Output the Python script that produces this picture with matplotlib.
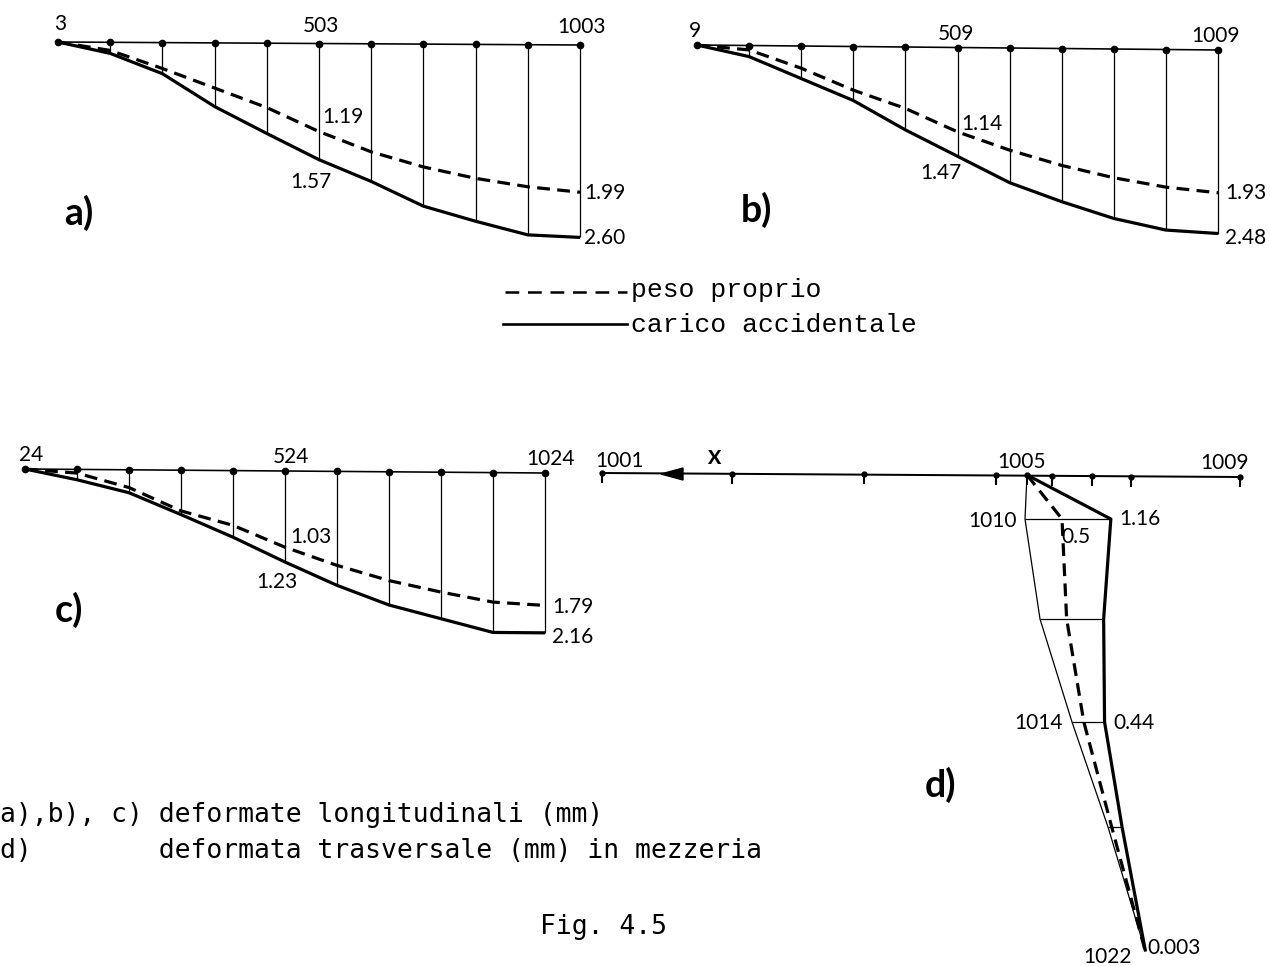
import numpy as np
import matplotlib.pyplot as plt

# deformate longitudinali (mm), nodi da sinistra a destra
a_peso = [0, 0.11, 0.35, 0.61, 0.87, 1.19, 1.46, 1.66, 1.81, 1.92, 1.99]
a_carico = [0, 0.15, 0.42, 0.86, 1.22, 1.57, 1.86, 2.19, 2.39, 2.57, 2.60]
b_peso = [0, 0.06, 0.30, 0.59, 0.83, 1.14, 1.38, 1.58, 1.74, 1.86, 1.93]
b_carico = [0, 0.15, 0.44, 0.73, 1.12, 1.47, 1.82, 2.07, 2.29, 2.44, 2.48]
c_peso = [0, 0.05, 0.24, 0.55, 0.74, 1.03, 1.27, 1.47, 1.62, 1.75, 1.79]
c_carico = [0, 0.14, 0.31, 0.60, 0.90, 1.23, 1.54, 1.80, 1.98, 2.16, 2.16]
a_nodi = ["3", "503", "1003"]
b_nodi = ["9", "509", "1009"]
c_nodi = ["24", "524", "1024"]

# deformata trasversale (mm) in mezzeria
d_livelli = ["1005", "1010", "", "1014", "", "1022"]
d_carico = [0, 1.16, 0.86, 0.44, 0.19, 0.003]
d_peso = [0, 0.5, 0.36, 0.16, 0.05, 0.0]
# geometria sezione (px): profondita' e ascissa dell'anima
d_prof = [0, 44, 144, 247, 352, 475]
d_anima = [0, -2, 13, 45, 81, 118]
# nodi dell'impalcato rispetto a 1005
d_impalcato = [-425, -295, -163, -31, 0, 25, 65, 104, 213]

MM = 74.0  # px per mm
THIN = 0.9
THICK = 2.3
NUMF = "Lato"
MONO = "DejaVu Sans Mono"

fig = plt.figure(figsize=(12.7, 9.66), dpi=100)
ax = fig.add_axes([0, 0, 1, 1])
ax.set_xlim(0, 1270)
ax.set_ylim(966, 0)
ax.axis("off")


def pannello(x0, y0, x1, y1, peso, carico):
    n = len(peso)
    xs = np.linspace(x0, x1, n)
    top = np.linspace(y0, y1, n)
    yp = top + np.array(peso) * MM
    yc = top + np.array(carico) * MM
    ax.plot(xs, top, color="k", lw=THIN * 1.3)
    ax.vlines(xs[1:], top[1:], yc[1:], color="k", lw=THIN)
    ax.plot(xs, yc, color="k", lw=THICK, solid_capstyle="butt")
    ax.plot(xs, yp, color="k", lw=THICK, dashes=(4, 2.3))
    ax.plot(xs, top, "o", color="k", ms=4.5)
    return xs, top, yp, yc


def testo(x, y, s, **kw):
    kw.setdefault("fontsize", 15)
    kw.setdefault("family", NUMF)
    kw.setdefault("va", "center")
    kw.setdefault("ha", "center")
    ax.text(x, y, s, **kw)


# a)
xs, top, yp, yc = pannello(58, 42, 580, 45, a_peso, a_carico)
for i, nome in zip([0, 5, 10], a_nodi):
    testo(xs[i] + 2, top[i] - 18, nome)
testo(xs[5] + 3, yp[5] - 15, f"{a_peso[5]:.2f}", ha="left")
testo(xs[5] - 8, yc[5] + 22, f"{a_carico[5]:.2f}")
testo(xs[-1] + 4, yp[-1] + 1, f"{a_peso[-1]:.2f}", ha="left")
testo(xs[-1] + 4, yc[-1] + 1, f"{a_carico[-1]:.2f}", ha="left")
testo(79, 213, "a)", fontsize=27, fontweight="bold")

# b)
xs, top, yp, yc = pannello(697, 45, 1218, 50, b_peso, b_carico)
for i, nome in zip([0, 5, 10], b_nodi):
    testo(xs[i] - 2, top[i] - 14, nome)
testo(xs[5] + 4, yp[5] - 8, f"{b_peso[5]:.2f}", ha="left")
testo(xs[5] - 17, yc[5] + 17, f"{b_carico[5]:.2f}")
testo(xs[-1] + 7, yp[-1] + 0, f"{b_peso[-1]:.2f}", ha="left")
testo(xs[-1] + 7, yc[-1] + 4, f"{b_carico[-1]:.2f}", ha="left")
testo(756, 210, "b)", fontsize=27, fontweight="bold")

# c)
xs, top, yp, yc = pannello(25, 469, 545, 473, c_peso, c_carico)
for i, nome in zip([0, 5, 10], c_nodi):
    testo(xs[i] + 6, top[i] - 14, nome)
testo(xs[5] + 5, yp[5] - 10, f"{c_peso[5]:.2f}", ha="left")
testo(xs[5] - 8, yc[5] + 20, f"{c_carico[5]:.2f}")
testo(xs[-1] + 7, yp[-1] + 2, f"{c_peso[-1]:.2f}", ha="left")
testo(xs[-1] + 7, yc[-1] + 4, f"{c_carico[-1]:.2f}", ha="left")
testo(69, 610, "c)", fontsize=27, fontweight="bold")

# legenda
ax.plot([505, 627], [292, 292], color="k", lw=1.8, dashes=(5.5, 3.5))
ax.plot([503, 627], [324, 324], color="k", lw=1.9)
ax.text(631, 290, "peso proprio", family="Liberation Mono", fontsize=19, va="center")
ax.text(631, 325, "carico accidentale", family="Liberation Mono", fontsize=19, va="center")

# d)
ox, oy = 1027, 475
dx = ox + np.array(d_impalcato)
dy = np.linspace(oy - 2, oy + 2, len(dx))
ax.plot([dx[0], dx[-1]], [dy[0], dy[-1]], color="k", lw=THIN * 1.6)
ax.vlines(dx, dy, dy + 10, color="k", lw=1.5)
ax.plot(dx, dy, "o", color="k", ms=3.5)
ax.fill([dx[0] + 59, dx[0] + 81, dx[0] + 81], [dy[0] + 1, dy[0] - 5, dy[0] + 7], color="k")
testo(dx[0] + 112, dy[0] - 15, "X", fontweight="black", fontsize=14)
testo(dx[0] + 18, dy[0] - 12, "1001")
testo(ox - 5, oy - 13, "1005")
testo(dx[-1] - 15, dy[-1] - 14, "1009")

wx = ox + np.array(d_anima)
wy = oy + np.array(d_prof)
cx = wx + np.array(d_carico) * MM
px = wx + np.array(d_peso) * MM
ax.plot(wx, wy, color="k", lw=THIN)
ax.hlines(wy[1:5], wx[1:5], cx[1:5], color="k", lw=THIN)
ax.plot(cx, wy, color="k", lw=THICK)
ax.plot(px, wy, color="k", lw=THICK, dashes=(4, 2.3))
testo(wx[1] - 8, wy[1] + 2, d_livelli[1], ha="right")
testo(wx[3] - 9, wy[3] + 1, d_livelli[3], ha="right")
testo(wx[5] - 13, wy[5] + 7, d_livelli[5], ha="right")
testo(cx[1] + 8, wy[1], f"{d_carico[1]:.2f}", ha="left")
testo(px[1] - 1, wy[1] + 18, f"{d_peso[1]:.1f}", ha="left")
testo(cx[3] + 9, wy[3] + 1, f"{d_carico[3]:.2f}", ha="left")
testo(cx[5] + 2, wy[5] - 2, f"{d_carico[5]:.3f}", ha="left")
testo(941, 785, "d)", fontsize=27, fontweight="bold")

# didascalia
ax.text(0, 815, "a),b), c) deformate longitudinali (mm)", family=MONO, fontsize=19, va="center")
ax.text(0, 851, "d)        deformata trasversale (mm) in mezzeria", family=MONO, fontsize=19, va="center")
ax.text(540, 927, "Fig. 4.5", family=MONO, fontsize=19, va="center")

fig.savefig("out.png", dpi=100, facecolor="white")
